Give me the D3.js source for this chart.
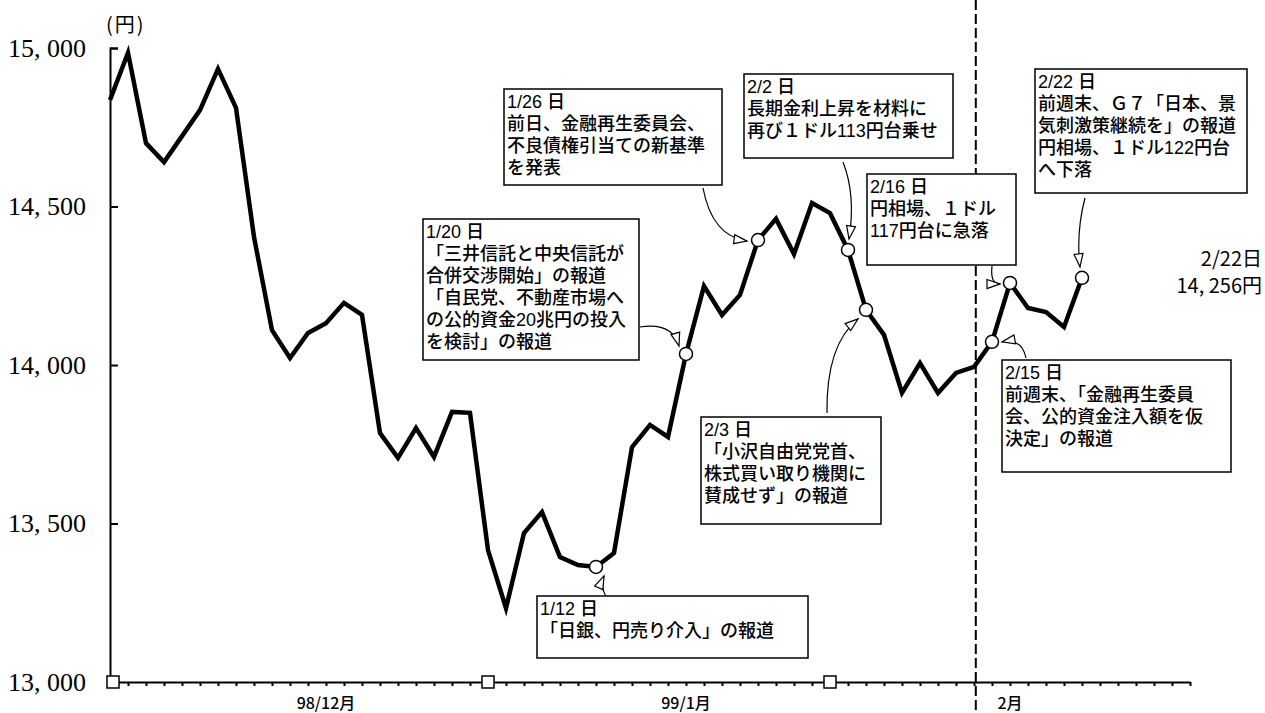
<!DOCTYPE html>
<html>
<head>
<meta charset="utf-8">
<script src="https://cdn.jsdelivr.net/npm/d3@7"></script>
<style>
  body { margin: 0; background: #fff; }
  svg { display: block; }
  .jp { font-family: "Noto Sans CJK JP", sans-serif; }
  .box { font-family: "Liberation Sans", "Noto Sans CJK JP", sans-serif; }
</style>
</head>
<body>
<svg width="1265" height="713"></svg>
<script>
// daily closing values (yen), one per trading day
var values = [14836, 14985, 14700, 14640, 14722, 14804, 14934, 14811, 14404, 14110,
              14022, 14101, 14132, 14196, 14158, 13785, 13707, 13801, 13710, 13852,
              13849, 13416, 13233, 13470, 13536, 13394, 13369, 13363, 13407, 13741,
              13811, 13773, 14035, 14249, 14158, 14221, 14394, 14461, 14350, 14511,
              14479, 14363, 14174, 14095, 13912, 14006, 13912, 13975, 13994, 14073,
              14259, 14180, 14167, 14120, 14275];
var yTicks = [13000, 13500, 14000, 14500, 15000];
var monthLabels = ["98/12月", "99/1月", "2月"];
var monthPos = [12, 32, 50];
var squareIdx = [0, 21, 40];
var dividerIdx = 48.1;
var lastLabel = ["2/22日", "14, 256円"];

// annotated days
var annoIdx = [27, 32, 36, 41, 42, 49, 50, 54];
var annoText = [
  ["1/12 日", "「日銀、円売り介入」の報道"],
  ["1/20 日", "「三井信託と中央信託が", "合併交渉開始」の報道", "「自民党、不動産市場へ", "の公的資金20兆円の投入", "を検討」の報道"],
  ["1/26 日", "前日、金融再生委員会、", "不良債権引当ての新基準", "を発表"],
  ["2/2 日", "長期金利上昇を材料に", "再び１ドル113円台乗せ"],
  ["2/3 日", "「小沢自由党党首、", "株式買い取り機関に", "賛成せず」の報道"],
  ["2/15 日", "前週末、「金融再生委員", "会、公的資金注入額を仮", "決定」の報道"],
  ["2/16 日", "円相場、１ドル", "117円台に急落"],
  ["2/22 日", "前週末、Ｇ７「日本、景", "気刺激策継続を」の報道", "円相場、１ドル122円台", "へ下落"]
];
// box [x, y, w, h], connector start, control point, arrow tip offset from point
var annoLayout = [
  {box: [537, 596, 271, 62],  s: [606, 597], c: [600, 585], t: [8, 9]},
  {box: [423, 219, 216, 141], s: [640, 327], c: [672, 322], t: [-7, -8]},
  {box: [504, 89, 218, 96],   s: [703, 188], c: [712, 236], t: [-11, 1]},
  {box: [744, 74, 209, 84],   s: [843, 162], c: [856, 195], t: [1, -11]},
  {box: [701, 417, 180, 107], s: [827, 413], c: [826, 345], t: [-8, 9]},
  {box: [1002, 360, 229, 112], s: [1026, 358], c: [1022, 338], t: [10, 0]},
  {box: [867, 174, 149, 91],  s: [992, 266], c: [990, 284], t: [-10, 1]},
  {box: [1035, 69, 212, 124], s: [1085, 198], c: [1076, 232], t: [-2, -11]}
];

var svg = d3.select("svg");

var x = d3.scaleLinear().domain([0, 60]).range([110, 1190]);
var y = d3.scaleLinear().domain([13000, 15000]).range([682, 48]);

// divider
svg.append("line")
  .attr("x1", x(dividerIdx)).attr("x2", x(dividerIdx))
  .attr("y1", 0).attr("y2", 713)
  .attr("stroke", "#000").attr("stroke-width", 2)
  .attr("stroke-dasharray", "10,4");

// axes
var yAxis = d3.axisLeft(y)
  .tickValues(yTicks)
  .tickSizeInner(-8).tickSizeOuter(-8)
  .tickPadding(24)
  .tickFormat(d => d3.format(",")(d).replace(",", ", "));

var gy = svg.append("g").attr("transform", "translate(110,0)").call(yAxis);
gy.selectAll("path, line").attr("stroke", "#000").attr("stroke-width", 2);
gy.selectAll("text")
  .style("font-family", '"Liberation Serif", serif')
  .style("font-size", "26px")
  .attr("fill", "#000");

var xAxis = d3.axisBottom(x)
  .tickValues(d3.range(1, 61))
  .tickSizeInner(4).tickSizeOuter(0)
  .tickFormat("");
var gx = svg.append("g").attr("transform", "translate(0,682)").call(xAxis);
gx.selectAll("path, line").attr("stroke", "#000").attr("stroke-width", 2);

svg.selectAll(".month")
  .data(monthLabels)
  .enter().append("text")
  .attr("class", "jp")
  .attr("x", (d, i) => x(monthPos[i]))
  .attr("y", 709)
  .attr("text-anchor", "middle")
  .style("font-size", "16px")
  .style("font-weight", 500)
  .text(d => d);

svg.selectAll(".sq")
  .data(squareIdx)
  .enter().append("rect")
  .attr("x", d => x(d) - 6 + (d === 0 ? 3 : 0))
  .attr("y", 676)
  .attr("width", 12).attr("height", 12)
  .attr("fill", "#fff").attr("stroke", "#000").attr("stroke-width", 1.5);

svg.append("text")
  .attr("class", "jp")
  .attr("x", 106).attr("y", 32)
  .style("font-size", "20px")
  .style("letter-spacing", "2px")
  .text("(円)");

// price line
var line = d3.line().x((d, i) => x(i)).y(d => y(d));
svg.append("path")
  .datum(values)
  .attr("d", line)
  .attr("fill", "none")
  .attr("stroke", "#000")
  .attr("stroke-width", 4.5)
  .attr("stroke-linejoin", "miter");

// annotation boxes and connectors
annoIdx.forEach(function(idx, k) {
  var L = annoLayout[k];
  var px = x(idx), py = y(values[idx]);
  var tx = px + L.t[0], ty = py + L.t[1];

  svg.append("path")
    .attr("d", `M${L.s[0]},${L.s[1]} Q${L.c[0]},${L.c[1]} ${tx},${ty}`)
    .attr("fill", "none").attr("stroke", "#000").attr("stroke-width", 1.2);

  var ang = Math.atan2(ty - L.c[1], tx - L.c[0]);
  var len = 13, hw = 4.5;
  var bx = tx - len * Math.cos(ang), by = ty - len * Math.sin(ang);
  var pts = [[tx, ty],
             [bx + hw * Math.sin(ang), by - hw * Math.cos(ang)],
             [bx - hw * Math.sin(ang), by + hw * Math.cos(ang)]];
  svg.append("polygon")
    .attr("points", pts.map(p => p.join(",")).join(" "))
    .attr("fill", "#fff").attr("stroke", "#000").attr("stroke-width", 1.2);

  var g = svg.append("g");
  g.append("rect")
    .attr("x", L.box[0]).attr("y", L.box[1])
    .attr("width", L.box[2]).attr("height", L.box[3])
    .attr("fill", "#fff").attr("stroke", "#000").attr("stroke-width", 1.5);
  g.selectAll("text")
    .data(annoText[k])
    .enter().append("text")
    .attr("class", "box")
    .attr("x", L.box[0] + 3)
    .attr("y", (d, i) => L.box[1] + 19 + i * 22)
    .style("font-size", "18px")
    .style("font-weight", 500)
    .text(d => d);
});

// marker circles
svg.selectAll(".pt")
  .data(annoIdx)
  .enter().append("circle")
  .attr("cx", d => x(d))
  .attr("cy", d => y(values[d]))
  .attr("r", 6.5)
  .attr("fill", "#fff").attr("stroke", "#000").attr("stroke-width", 1.5);

// last value label
svg.selectAll(".last")
  .data(lastLabel)
  .enter().append("text")
  .attr("class", "jp")
  .attr("x", 1262)
  .attr("y", (d, i) => 266 + i * 27)
  .attr("text-anchor", "end")
  .style("font-size", "20px")
  .text(d => d);
</script>
</body>
</html>
